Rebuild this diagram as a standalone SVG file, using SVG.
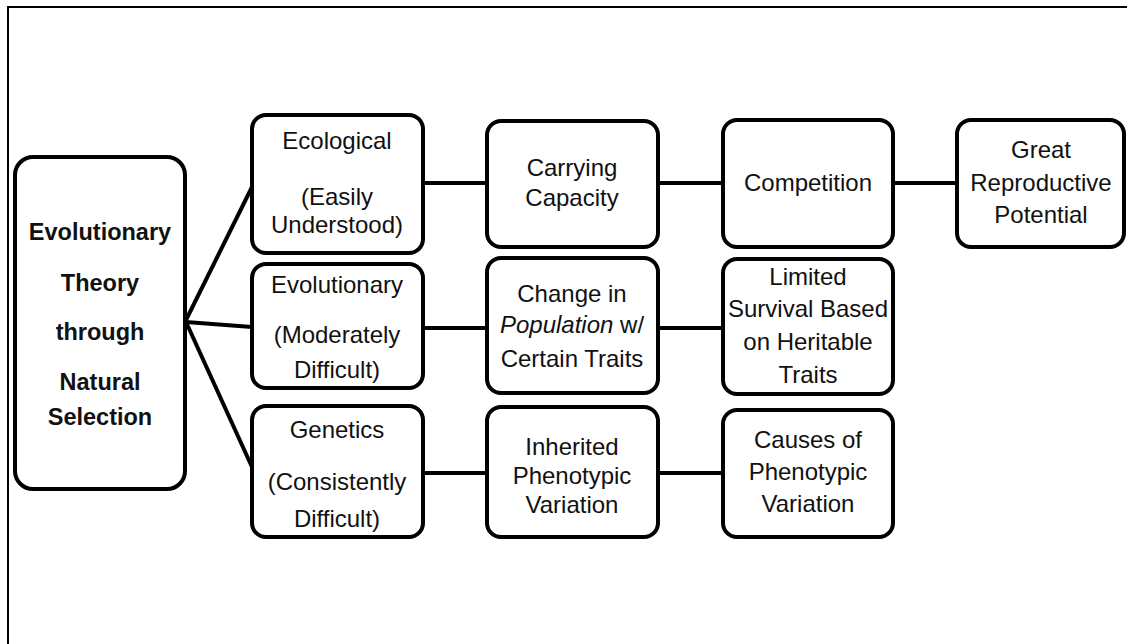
<svg xmlns="http://www.w3.org/2000/svg" width="1127" height="644" viewBox="0 0 1127 644">
<style>
.box{fill:#fff;stroke:#000;stroke-width:4}
.t{font-family:"Liberation Sans",Arial,sans-serif;font-size:24px;fill:#111;text-anchor:middle}
.b{font-family:"Liberation Sans",Arial,sans-serif;font-size:23.5px;font-weight:bold;fill:#111;text-anchor:middle}
.c{stroke:#000;stroke-width:4;fill:none}
.f{stroke:#000;stroke-width:2;fill:none}
</style>
<rect width="1127" height="644" fill="#fff"/>
<path class="f" d="M8,644 V7 H1127"/>
<g id="connectors">
<line class="c" x1="186" y1="320" x2="252" y2="187"/>
<line class="c" x1="186" y1="322" x2="252" y2="327"/>
<line class="c" x1="186" y1="322" x2="252" y2="467"/>
<line class="c" x1="423" y1="183" x2="487" y2="183"/>
<line class="c" x1="658" y1="183" x2="723" y2="183"/>
<line class="c" x1="893" y1="183" x2="957" y2="183"/>
<line class="c" x1="423" y1="328" x2="487" y2="328"/>
<line class="c" x1="658" y1="328" x2="723" y2="328"/>
<line class="c" x1="423" y1="473" x2="487" y2="473"/>
<line class="c" x1="658" y1="473" x2="723" y2="473"/>
</g>
<g id="main">
<rect class="box" x="15" y="157" width="170" height="332" rx="18"/>
<text class="b" x="100" y="240">Evolutionary</text>
<text class="b" x="100" y="291">Theory</text>
<text class="b" x="100" y="340">through</text>
<text class="b" x="100" y="390">Natural</text>
<text class="b" x="100" y="425">Selection</text>
</g>
<g id="ecological">
<rect class="box" x="252" y="115" width="171" height="138" rx="14"/>
<text class="t" x="337" y="149">Ecological</text>
<text class="t" x="337" y="205">(Easily</text>
<text class="t" x="337" y="233">Understood)</text>
</g>
<g id="carrying">
<rect class="box" x="487" y="121" width="171" height="126" rx="14"/>
<text class="t" x="572" y="176">Carrying</text>
<text class="t" x="572" y="206">Capacity</text>
</g>
<g id="competition">
<rect class="box" x="723" y="120" width="170" height="127" rx="14"/>
<text class="t" x="808" y="191">Competition</text>
</g>
<g id="great">
<rect class="box" x="957" y="120" width="167" height="127" rx="14"/>
<text class="t" x="1041" y="158">Great</text>
<text class="t" x="1041" y="191">Reproductive</text>
<text class="t" x="1041" y="223">Potential</text>
</g>
<g id="evolutionary">
<rect class="box" x="252" y="264" width="171" height="124" rx="14"/>
<text class="t" x="337" y="293">Evolutionary</text>
<text class="t" x="337" y="343">(Moderately</text>
<text class="t" x="337" y="378">Difficult)</text>
</g>
<g id="change">
<rect class="box" x="487" y="258" width="171" height="135" rx="14"/>
<text class="t" x="572" y="302">Change in</text>
<text class="t" x="572" y="333"><tspan font-style="italic">Population</tspan> w/</text>
<text class="t" x="572" y="367">Certain Traits</text>
</g>
<g id="limited">
<rect class="box" x="723" y="259" width="170" height="135" rx="14"/>
<text class="t" x="808" y="285">Limited</text>
<text class="t" x="808" y="317">Survival Based</text>
<text class="t" x="808" y="350">on Heritable</text>
<text class="t" x="808" y="383">Traits</text>
</g>
<g id="genetics">
<rect class="box" x="252" y="406" width="171" height="131" rx="14"/>
<text class="t" x="337" y="438">Genetics</text>
<text class="t" x="337" y="490">(Consistently</text>
<text class="t" x="337" y="527">Difficult)</text>
</g>
<g id="inherited">
<rect class="box" x="487" y="407" width="171" height="130" rx="14"/>
<text class="t" x="572" y="455">Inherited</text>
<text class="t" x="572" y="484">Phenotypic</text>
<text class="t" x="572" y="513">Variation</text>
</g>
<g id="causes">
<rect class="box" x="723" y="410" width="170" height="127" rx="14"/>
<text class="t" x="808" y="448">Causes of</text>
<text class="t" x="808" y="480">Phenotypic</text>
<text class="t" x="808" y="512">Variation</text>
</g>
</svg>
